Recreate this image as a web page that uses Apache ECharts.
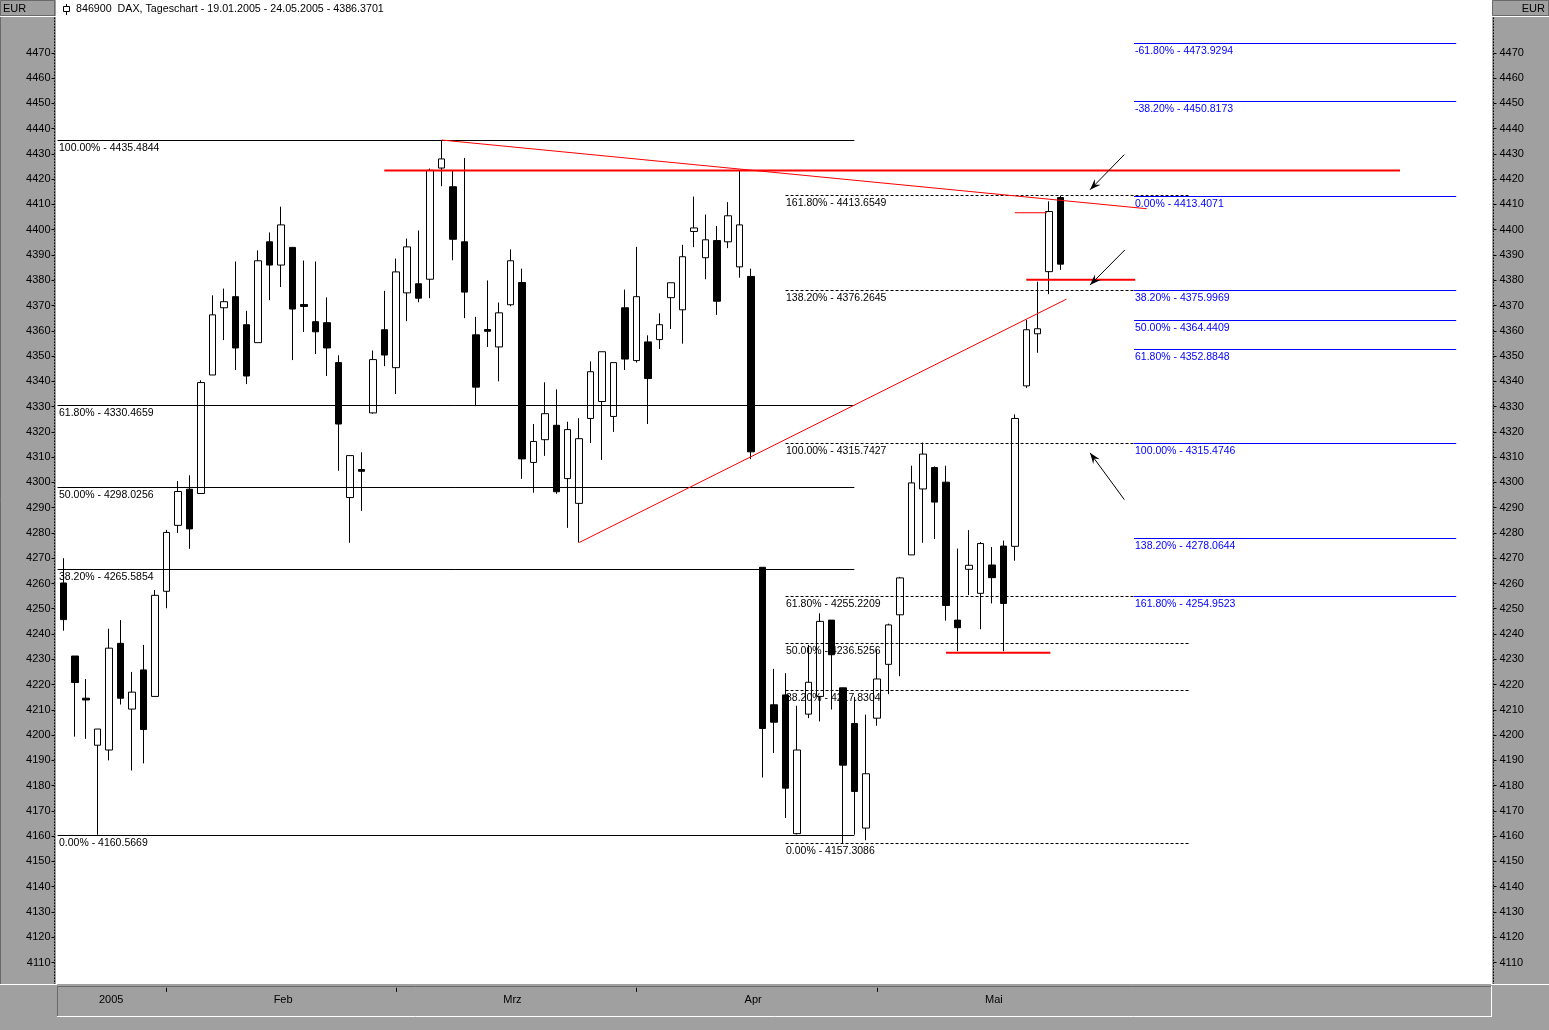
<!DOCTYPE html>
<html><head><meta charset="utf-8">
<script src="https://cdn.jsdelivr.net/npm/echarts@6/dist/echarts.min.js"></script>
<style>html,body{margin:0;padding:0;background:#a0a0a0;}#c{width:1549px;height:1030px;}</style>
</head><body><div id="c"></div>
<script>
// ---------- DATA ----------
const dates = ['19.01.2005','20.01.2005','21.01.2005','24.01.2005','25.01.2005','26.01.2005','27.01.2005','28.01.2005','31.01.2005',
'01.02.2005','02.02.2005','03.02.2005','04.02.2005','07.02.2005','08.02.2005','09.02.2005','10.02.2005','11.02.2005','14.02.2005','15.02.2005','16.02.2005','17.02.2005','18.02.2005','21.02.2005','22.02.2005','23.02.2005','24.02.2005','25.02.2005','28.02.2005',
'01.03.2005','02.03.2005','03.03.2005','04.03.2005','07.03.2005','08.03.2005','09.03.2005','10.03.2005','11.03.2005','14.03.2005','15.03.2005','16.03.2005','17.03.2005','18.03.2005','21.03.2005','22.03.2005','23.03.2005','24.03.2005','29.03.2005','30.03.2005','31.03.2005',
'01.04.2005','04.04.2005','05.04.2005','06.04.2005','07.04.2005','08.04.2005','11.04.2005','12.04.2005','13.04.2005','14.04.2005','15.04.2005','18.04.2005','19.04.2005','20.04.2005','21.04.2005','22.04.2005','25.04.2005','26.04.2005','27.04.2005','28.04.2005','29.04.2005',
'02.05.2005','03.05.2005','04.05.2005','05.05.2005','06.05.2005','09.05.2005','10.05.2005','11.05.2005','12.05.2005','13.05.2005','16.05.2005','17.05.2005','18.05.2005','19.05.2005','20.05.2005','23.05.2005','24.05.2005'];
const emptySlots = 37; // blank days right of the last candle (annotation space)

const open = [4260.2,4231.3,4214.6,4196.0,4194.1,4236.3,4210.3,4225.8,4215.3,4256.9,
4283.0,4297.3,4295.6,4342.5,4369.1,4373.5,4362.4,4355.3,4395.2,4386.0,
4393.0,4370.4,4363.6,4363.2,4347.4,4294.0,4305.1,4327.5,4360.4,4345.4,
4375.0,4378.6,4380.4,4424.4,4417.0,4395.2,4358.4,4360.5,4353.6,4370.3,
4379.1,4307.9,4316.9,4322.6,4301.5,4291.7,4325.3,4332.0,4326.1,4369.1,
4348.2,4355.6,4356.5,4373.1,4368.3,4399.3,4388.9,4395.7,4395.2,4385.3,
4381.5,4266.4,4212.0,4215.9,4161.0,4208.3,4215.3,4245.5,4218.7,4204.6,
4163.2,4206.7,4228.0,4247.6,4271.3,4297.4,4305.9,4300.1,4245.5,4265.6,
4256.1,4267.3,4274.8,4274.7,4338.2,4358.8,4383.4,4412.7];
const close = [4245.7,4220.8,4213.9,4202.4,4234.4,4214.6,4217.0,4202.2,4255.3,4280.2,
4296.4,4281.6,4339.5,4366.3,4371.5,4353.2,4342.1,4387.7,4386.0,4401.9,
4368.6,4369.6,4359.6,4353.2,4323.1,4310.6,4304.4,4348.6,4350.4,4383.3,
4393.2,4372.9,4423.5,4428.0,4396.2,4375.3,4337.7,4359.8,4367.1,4387.7,
4309.3,4316.2,4327.2,4296.3,4320.9,4317.3,4343.8,4351.7,4347.4,4348.8,
4373.5,4341.1,4362.4,4379.0,4389.3,4400.7,4396.0,4371.7,4405.5,4401.9,
4312.1,4202.6,4205.1,4179.0,4194.1,4220.9,4245.0,4231.8,4188.1,4177.7,
4184.7,4222.2,4243.6,4262.2,4299.8,4311.2,4292.2,4251.3,4242.5,4267.2,
4275.8,4262.3,4252.1,4325.3,4360.4,4360.8,4407.2,4386.3701];
const low = [4241.3,4199.4,4198.5,4160.57,4190.0,4212.1,4186.0,4188.8,4215.3,4250.2,
4280.0,4273.7,4295.6,4342.5,4356.3,4344.5,4338.9,4355.3,4372.1,4377.3,
4348.4,4359.5,4350.8,4342.1,4304.6,4276.1,4288.7,4327.2,4346.0,4335.0,
4363.8,4371.3,4372.9,4417.2,4387.9,4365.0,4330.2,4353.6,4340.0,4369.7,
4301.4,4295.9,4310.5,4295.5,4282.0,4276.2,4315.6,4308.9,4320.0,4344.5,
4347.4,4323.1,4352.8,4360.7,4354.9,4393.1,4380.4,4366.3,4392.7,4381.0,
4309.2,4183.2,4192.9,4167.2,4160.7,4206.7,4205.4,4210.1,4157.31,4160.6,
4158.4,4203.7,4216.2,4223.3,4271.3,4276.1,4277.6,4245.3,4233.2,4255.4,
4241.9,4252.1,4233.2,4269.0,4337.4,4351.3,4374.5,4384.1];
const high = [4270.0,4231.3,4222.2,4202.4,4242.1,4245.5,4225.0,4235.7,4257.4,4281.2,
4300.5,4302.8,4340.4,4374.0,4376.7,4387.4,4367.9,4391.8,4398.9,4409.1,
4393.0,4387.8,4387.4,4373.2,4350.3,4310.6,4311.9,4352.2,4375.8,4388.6,
4396.5,4399.7,4424.2,4435.48,4423.5,4428.4,4365.5,4379.9,4371.2,4392.2,
4384.6,4323.1,4339.6,4336.8,4324.0,4325.4,4347.9,4351.7,4347.4,4376.3,
4393.2,4358.2,4366.9,4379.0,4394.0,4413.1,4406.0,4401.5,4410.9,4423.4,
4384.6,4266.4,4226.2,4224.5,4211.6,4235.7,4248.2,4245.5,4218.7,4215.1,
4208.1,4233.9,4244.1,4262.6,4306.6,4315.74,4306.3,4306.6,4273.8,4281.1,
4276.4,4274.4,4277.0,4326.9,4364.3,4379.4,4411.2,4413.41];

const monthLabelIdx = [4, 19, 39, 60, 81];
const monthLabelText = ['2005', 'Feb', 'Mrz', 'Apr', 'Mai'];
const yTicks = [4110,4120,4130,4140,4150,4160,4170,4180,4190,4200,4210,4220,4230,4240,4250,4260,4270,4280,4290,4300,
4310,4320,4330,4340,4350,4360,4370,4380,4390,4400,4410,4420,4430,4440,4450,4460,4470];

// Fibonacci sets: [from index, to index] and levels
const fibA_pct = ['100.00%','61.80%','50.00%','38.20%','0.00%'];
const fibA_val = [4435.4844,4330.4659,4298.0256,4265.5854,4160.5669];
const fibA_span = [-0.5, 69];
const fibB_pct = ['161.80%','138.20%','100.00%','61.80%','50.00%','38.20%','0.00%'];
const fibB_val = [4413.6549,4376.2645,4315.7427,4255.2209,4236.5256,4217.8304,4157.3086];
const fibB_span = [63, 98.3];
const fibC_pct = ['-61.80%','-38.20%','0.00%','38.20%','50.00%','61.80%','100.00%','138.20%','161.80%'];
const fibC_val = [4473.9294,4450.8173,4413.4071,4375.9969,4364.4409,4352.8848,4315.4746,4278.0644,4254.9523];
const fibC_span = [93.4, 121.5];

// red trend/support lines: [x1, y1, x2, y2] in (day index, price)
const redThick = [[28, 4423.4, 116.6, 4423.4], [77, 4232.6, 86.1, 4232.6], [84, 4380.2, 93.5, 4380.2]];
const redThin = [[33, 4435.48, 94.5, 4408.3], [45, 4276.2, 87.5, 4372.5], [83, 4406.7, 85.8, 4406.7]];
// arrows: [tailX, tailY, headX, headY]
const arrows = [[92.55, 4429.7, 89.56, 4415.8], [92.6, 4392.0, 89.56, 4378.1], [92.55, 4293.2, 89.56, 4311.7]];

// ---------- BUILD ----------
const FONT = '"Liberation Sans", Arial, sans-serif';
const categories = dates.concat(Array.from({length: emptySlots}, () => ''));
const monthStartIdx = dates.map((d, i) => (i > 0 && d.slice(3, 5) !== dates[i - 1].slice(3, 5)) ? i : -1).filter(i => i >= 0);
const candles = dates.map((d, i) => [open[i], close[i], low[i], high[i]]);
const nSlots = categories.length;

function fibSeries(pct, val, span, color, dash, dx) {
  return {
    type: 'custom', xAxisIndex: 1, yAxisIndex: 0, z: 5, silent: true, clip: false,
    data: val.map(v => [span[0], span[1], v]),
    encode: {x: [0, 1], y: 2},
    renderItem: function (params, api) {
      const a = api.coord([api.value(0), api.value(2)]);
      const b = api.coord([api.value(1), api.value(2)]);
      const y = Math.round(a[1]) + 0.5;
      const i = params.dataIndex;
      return {type: 'group', children: [
        {type: 'line', shape: {x1: a[0], y1: y, x2: b[0], y2: y}, style: {stroke: color, lineWidth: 1, lineDash: dash}},
        {type: 'text', x: Math.round(a[0] + dx), y: y + 2.5,
          style: {text: pct[i] + ' - ' + val[i].toFixed(4), fill: color, font: '10.5px ' + FONT, align: 'left', verticalAlign: 'top'}}
      ]};
    }
  };
}
function lineSeries(data, color, width) {
  return {
    type: 'custom', xAxisIndex: 1, yAxisIndex: 0, z: 6, silent: true, clip: false,
    data: data, encode: {x: [0, 2], y: [1, 3]},
    renderItem: function (params, api) {
      const a = api.coord([api.value(0), api.value(1)]);
      const b = api.coord([api.value(2), api.value(3)]);
      return {type: 'line', shape: {x1: a[0], y1: a[1], x2: b[0], y2: b[1]}, style: {stroke: color, lineWidth: width}};
    }
  };
}
const arrowSeries = {
  type: 'custom', xAxisIndex: 1, yAxisIndex: 0, z: 7, silent: true, clip: false,
  data: arrows, encode: {x: [0, 2], y: [1, 3]},
  renderItem: function (params, api) {
    const t = api.coord([api.value(0), api.value(1)]);
    const h = api.coord([api.value(2), api.value(3)]);
    const ang = Math.atan2(h[1] - t[1], h[0] - t[0]);
    const c = Math.cos(ang), s = Math.sin(ang);
    const L = 11, W = 4, N = 7;
    const bx = h[0] - L * c, by = h[1] - L * s;
    const nx = h[0] - N * c, ny = h[1] - N * s;
    return {type: 'group', children: [
      {type: 'line', shape: {x1: t[0], y1: t[1], x2: h[0], y2: h[1]}, style: {stroke: '#000', lineWidth: 1}},
      {type: 'polygon', shape: {points: [[h[0], h[1]], [bx - s * W, by + c * W], [nx, ny], [bx + s * W, by - c * W]]}, style: {fill: '#000'}}
    ]};
  }
};

const GRAY = '#a0a0a0';
const chart = echarts.init(document.getElementById('c'));
const yAxisBase = {
  type: 'value', min: 4100, max: 4490, interval: 10,
  axisLine: {show: true, onZero: false, lineStyle: {color: '#000', width: 1, type: [1, 2]}},
  splitLine: {show: false},
  axisTick: {show: true, length: 3, customValues: yTicks, lineStyle: {color: '#000', width: 1}},
  minorTick: {show: false},
  axisLabel: {customValues: yTicks, color: '#000', fontSize: 11, fontFamily: FONT,
    formatter: v => (v >= 4110 && v <= 4470) ? String(v) : ''}
};
chart.setOption({
  animation: false,
  backgroundColor: GRAY,
  textStyle: {fontFamily: FONT},
  title: {text: '846900  DAX, Tageschart - ' + dates[0] + ' - ' + dates[dates.length - 1] + ' - ' + close[close.length - 1].toFixed(4),
    left: 76, top: 4, padding: 0,
    textStyle: {fontSize: 10.7, fontWeight: 'normal', color: '#000', fontFamily: FONT}},
  grid: {left: 57.57, right: 58.43, top: 2.26, bottom: 42.2, outerBoundsMode: 'none', containLabel: false},
  xAxis: [{
    type: 'category', data: categories, boundaryGap: true,
    axisLine: {show: false, onZero: false},
    axisTick: {show: true, alignWithLabel: true, length: 4, interval: (i) => monthStartIdx.includes(i), lineStyle: {color: '#000'}},
    axisLabel: {show: true, interval: (i) => monthLabelIdx.includes(i), margin: 7, color: '#000', fontSize: 11, fontFamily: FONT,
      padding: [0, 0, 0, 4],
      formatter: (v, i) => monthLabelText[monthLabelIdx.indexOf(i)] || ''},
    splitLine: {show: false}
  }, {
    type: 'value', min: -0.5, max: nSlots - 0.5, show: false, axisLine: {onZero: false}
  }],
  yAxis: [Object.assign({}, yAxisBase, {position: 'left', offset: 3.07, axisLabel: Object.assign({}, yAxisBase.axisLabel, {margin: 4})}),
          Object.assign({}, yAxisBase, {position: 'right', offset: 2.93, axisLabel: Object.assign({}, yAxisBase.axisLabel, {margin: 6})})],
  graphic: [
    {type: 'rect', z: -20, silent: true, shape: {x: 56, y: 0, width: 1436, height: 984}, style: {fill: '#ffffff'}},
    {type: 'line', z: -19, silent: true, shape: {x1: 56.5, y1: 0, x2: 56.5, y2: 984}, style: {stroke: '#ffffff'}},
    // EUR boxes
    {type: 'rect', z: 20, silent: true, shape: {x: 0.5, y: 0.5, width: 54, height: 15}, style: {fill: GRAY, stroke: '#6a6a6a'}},
    {type: 'rect', z: 20, silent: true, shape: {x: 0, y: 16, width: 57, height: 1}, style: {fill: '#ffffff'}},
    {type: 'text', z: 21, silent: true, x: 3, y: 8.5, style: {text: 'EUR', fill: '#000', font: '11px ' + FONT, verticalAlign: 'middle'}},
    {type: 'rect', z: 20, silent: true, shape: {x: 1492.5, y: 0.5, width: 56, height: 15}, style: {fill: GRAY, stroke: '#6a6a6a'}},
    {type: 'rect', z: 20, silent: true, shape: {x: 1492, y: 16, width: 57, height: 1}, style: {fill: '#ffffff'}},
    {type: 'text', z: 21, silent: true, x: 1545, y: 8.5, style: {text: 'EUR', fill: '#000', font: '11px ' + FONT, align: 'right', verticalAlign: 'middle'}},
    {type: 'line', z: -19, silent: true, shape: {x1: 0.5, y1: 17, x2: 0.5, y2: 984}, style: {stroke: '#6a6a6a'}},
    // panel bottom edges (cover the axis line ends)
    {type: 'rect', z: 20, silent: true, shape: {x: 0, y: 984, width: 57, height: 46}, style: {fill: GRAY}},
    {type: 'rect', z: 20, silent: true, shape: {x: 1492, y: 984, width: 57, height: 46}, style: {fill: GRAY}},
    {type: 'line', z: 21, silent: true, shape: {x1: 0, y1: 984.5, x2: 57, y2: 984.5}, style: {stroke: '#ffffff'}},
    {type: 'line', z: 21, silent: true, shape: {x1: 1491, y1: 984.5, x2: 1549, y2: 984.5}, style: {stroke: '#ffffff'}},
    // bottom axis panel
    {type: 'line', z: -19, silent: true, shape: {x1: 57, y1: 986.5, x2: 1491, y2: 986.5}, style: {stroke: '#6a6a6a'}},
    {type: 'line', z: 21, silent: true, shape: {x1: 57.5, y1: 986, x2: 57.5, y2: 1017}, style: {stroke: '#6a6a6a'}},
    {type: 'line', z: 21, silent: true, shape: {x1: 57, y1: 1016.5, x2: 1492, y2: 1016.5}, style: {stroke: '#ffffff'}},
    {type: 'line', z: 21, silent: true, shape: {x1: 1491.5, y1: 986, x2: 1491.5, y2: 1017}, style: {stroke: '#ffffff'}},
    // title icon
    {type: 'line', z: 10, silent: true, shape: {x1: 66.5, y1: 4, x2: 66.5, y2: 15}, style: {stroke: '#000'}},
    {type: 'rect', z: 11, silent: true, shape: {x: 63.5, y: 6.5, width: 6, height: 5}, style: {fill: '#fff', stroke: '#000'}}
  ],
  series: [
    {
      type: 'candlestick', xAxisIndex: 0, yAxisIndex: 0, z: 2, barWidth: 7, silent: true,
      data: candles,
      itemStyle: {color: '#ffffff', color0: '#000000', borderColor: '#000000', borderColor0: '#000000', borderColorDoji: '#000000', borderWidth: 1}
    },
    fibSeries(fibA_pct, fibA_val, fibA_span, '#000000', null, 1.5),
    fibSeries(fibB_pct, fibB_val, fibB_span, '#000000', [3, 2], 0.5),
    fibSeries(fibC_pct, fibC_val, fibC_span, '#0000ff', null, 1),
    lineSeries(redThick, '#ff0000', 2),
    lineSeries(redThin, '#ff0000', 1),
    arrowSeries
  ]
});
</script></body></html>
